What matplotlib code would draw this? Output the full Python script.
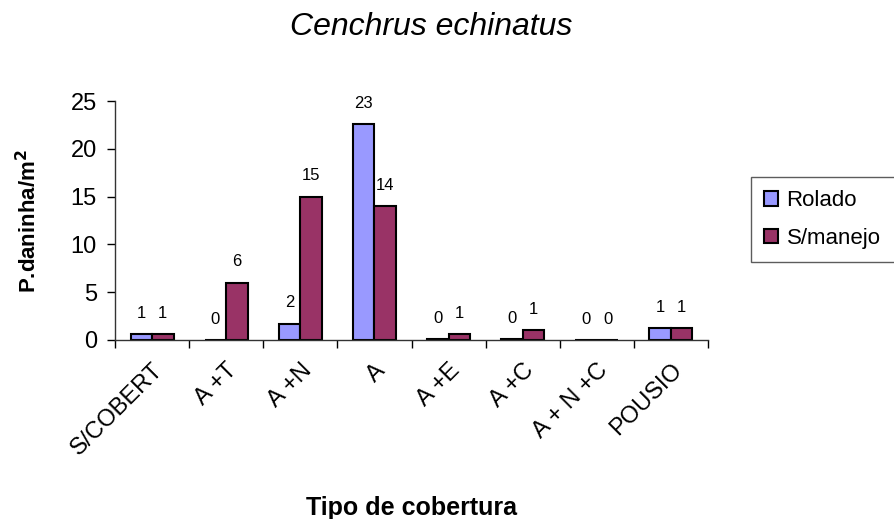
import numpy as np
import matplotlib
matplotlib.use('Agg')
import matplotlib.pyplot as plt
from matplotlib.ticker import FixedLocator

categorias = ['S/COBERT', 'A +T', 'A +N', 'A', 'A +E', 'A +C', 'A + N +C', 'POUSIO']
rolado = [0.6, 0.0, 1.7, 22.6, 0.1, 0.1, 0.0, 1.2]
s_manejo = [0.6, 6.0, 15.0, 14.0, 0.6, 1.0, 0.0, 1.2]
series = ['Rolado', 'S/manejo']

plt.rcParams['font.family'] = ['Liberation Sans', 'DejaVu Sans']

fig = plt.figure(figsize=(8.94, 5.19), dpi=100)
ax = fig.add_axes([0.1286, 0.345, 0.6634, 0.460])

x = np.arange(len(categorias))
w = 0.29
b1 = ax.bar(x - w / 2, rolado, w, color='#9999FF', edgecolor='black', linewidth=1.5, label=series[0])
b2 = ax.bar(x + w / 2, s_manejo, w, color='#993366', edgecolor='black', linewidth=1.5, label=series[1])

# rotulos de dados, arredondados como no Excel
for bars, vals in ((b1, rolado), (b2, s_manejo)):
    for rect, v in zip(bars, vals):
        ax.annotate('%d' % int(v + 0.5), (rect.get_x() + rect.get_width() / 2, v),
                    xytext=(0, 15), textcoords='offset points',
                    ha='center', va='center', fontsize=12)

ax.set_xlim(-0.5, len(categorias) - 0.5)
ax.set_ylim(0, 25)
ax.set_yticks([0, 5, 10, 15, 20, 25])
ax.tick_params(axis='y', labelsize=17, direction='out', length=6, width=1, pad=7)

ax.set_xticks(x)
ax.set_xticklabels(categorias, rotation=45, ha='right', rotation_mode='anchor', fontsize=17)
ax.xaxis.set_minor_locator(FixedLocator(np.arange(-0.5, len(categorias), 1.0)))
ax.tick_params(axis='x', which='major', length=0, pad=14)
ax.tick_params(axis='x', which='minor', length=6, width=1, direction='out')

for s in ('top', 'right'):
    ax.spines[s].set_visible(False)
for s in ('left', 'bottom'):
    ax.spines[s].set_color('#333333')
    ax.spines[s].set_linewidth(1)

ax.set_xlabel('Tipo de cobertura', fontsize=18, fontweight='bold', va='center')
ax.xaxis.set_label_coords(0.5, -0.705)
ax.set_ylabel('P.daninha/m$^{\\mathbf{2}}$', fontsize=16, fontweight='bold', va='center')
ax.yaxis.set_label_coords(-0.145, 0.5)

fig.text(0.482, 0.948, 'Cenchrus echinatus', ha='center', va='center', fontsize=23, style='italic')

# legenda encostada na borda direita, como no original
leg = fig.legend(loc='upper left', bbox_to_anchor=(0.840, 0.495, 0.17, 0.164), mode='expand',
                 fontsize=16, frameon=True, fancybox=False, edgecolor='#333333',
                 handlelength=0.6, handleheight=0.6, handletextpad=0.4, labelspacing=0.75,
                 borderpad=0.6, borderaxespad=0)
leg.get_frame().set_linewidth(1)

fig.savefig('out.png', dpi=100)
